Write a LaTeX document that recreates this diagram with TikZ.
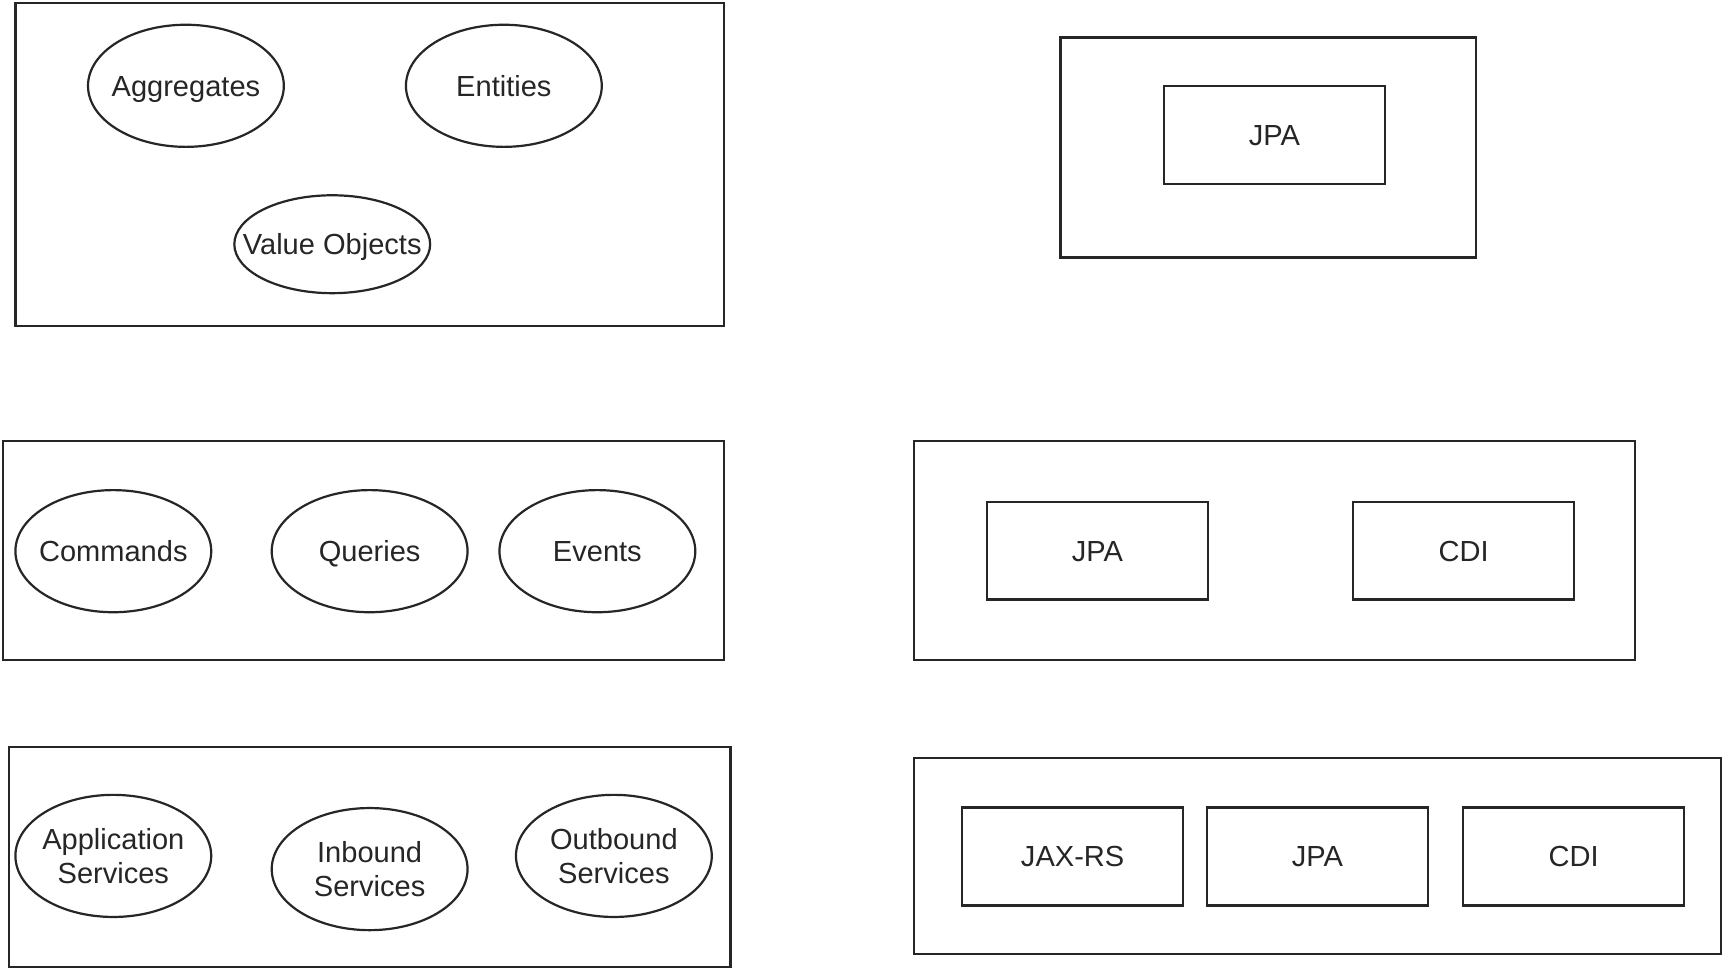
\documentclass[tikz,border=0pt]{standalone}
\usepackage{fontspec}
\setmainfont{Liberation Sans}
\usetikzlibrary{shapes.geometric}
\begin{document}
\begin{tikzpicture}[x=0.5pt,y=-0.5pt,
  every node/.style={font=\fontsize{13.2}{15.5}\selectfont, text=black!85},
  outer/.style={draw=black!85, line width=1pt},
  oval/.style={ellipse, draw=black!85, line width=1pt, inner xsep=-25pt, inner ysep=0pt,
     minimum width=89pt, minimum height=55.5pt, align=center},
  one/.style={text height=9.45pt, text depth=0pt},
  boxy/.style={rectangle, draw=black!85, line width=1pt, inner sep=0pt,
     minimum width=100.5pt, minimum height=44.5pt, text height=9.45pt, text depth=0pt}]
\useasboundingbox (0,0) rectangle (1568,882.6);
\fill[white] (0,0) rectangle (1568,882.6);
% left column
\draw[outer] (14,3) rectangle (658,296);
\node[oval, one] (agg) at (169,78) {Aggregates};
\node[oval, one] (ent) at (458,78) {Entities};
\node[oval, one, minimum height=44.5pt] (vo) at (302,222) {Value Objects};

\draw[outer] (3,401) rectangle (658,600);
\node[oval, one] (cmd) at (103,501) {Commands};
\node[oval, one] (qry) at (336,501) {Queries};
\node[oval, one] (evt) at (543,501) {Events};

\draw[outer] (8,679) rectangle (664,879);
\node[oval] (app) at (103,778) {Application\\Services};
\node[oval] (inb) at (336,790) {Inbound\\Services};
\node[oval] (outb) at (558,778) {Outbound\\Services};

% right column
\draw[outer] (964,34) rectangle (1342,234);
\node[boxy] (jpa1) at (1158.5,122.5) {JPA};

\draw[outer] (831,401) rectangle (1486,600);
\node[boxy] (jpa2) at (997.5,500.5) {JPA};
\node[boxy] (cdi2) at (1330.5,500.5) {CDI};

\draw[outer] (831,689) rectangle (1564,867);
\node[boxy] (jax3) at (975,778.5) {JAX-RS};
\node[boxy] (jpa3) at (1197.5,778.5) {JPA};
\node[boxy] (cdi3) at (1430.5,778.5) {CDI};
\end{tikzpicture}
\end{document}
